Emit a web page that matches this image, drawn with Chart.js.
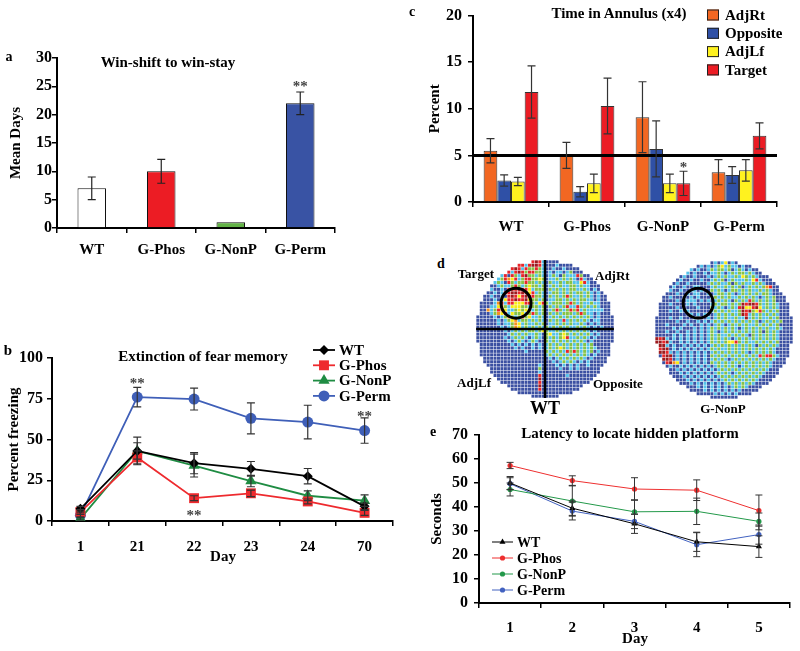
<!DOCTYPE html>
<html>
<head>
<meta charset="utf-8">
<script src="https://cdn.jsdelivr.net/npm/chart.js@4.4.1/dist/chart.umd.min.js"></script>
<style>
  body { margin: 0; background: #fff; width: 800px; height: 651px; position: relative; overflow: hidden;
         font-family: "Liberation Serif", "Times New Roman", serif; font-weight: bold; color: #000; }
  canvas { position: absolute; }
  .t { position: absolute; transform: translate(-50%, -50%); white-space: nowrap; line-height: 1; }
  .t.l { transform: translate(0, -50%); }
  .t.r { transform: translate(-100%, -50%); }
</style>
</head>
<body>
<script>
// ---- data ----
const groupsA = ["WT", "G-Phos", "G-NonP", "G-Perm"];
const meanDays = [7, 10, 1, 22];
const meanDaysErr = [2, 2.1, 0, 2];

const freezeDays = ["1", "21", "22", "23", "24", "70"];
const wtFreeze = [7.5, 43, 35.5, 32, 27.5, 9];
const wtFreezeErr = [1.5, 5, 6.5, 4.5, 4.7, 2];
const phosFreeze = [5.5, 39, 14, 17, 12, 5];
const phosFreezeErr = [1.5, 4, 1.5, 2, 1.5, 1.5];
const nonpFreeze = [1.5, 43, 34, 24.5, 15.5, 12.5];
const nonpFreezeErr = [1, 8.5, 7, 3.5, 3, 3.5];
const permFreeze = [3.5, 76, 74.8, 63, 60.7, 55.5];
const permFreezeErr = [1.5, 6, 6.7, 9.5, 10.3, 7.8];

const annulusGroups = ["WT", "G-Phos", "G-NonP", "G-Perm"];
const adjRt = [5.5, 5.0, 9.1, 3.2];
const adjRtErr = [1.3, 1.4, 3.8, 1.35];
const opposite = [2.3, 1.1, 5.7, 2.9];
const oppositeErr = [0.6, 0.55, 3.0, 0.9];
const adjLf = [2.2, 2.0, 2.0, 3.4];
const adjLfErr = [0.45, 1.0, 1.0, 1.15];
const target = [11.8, 10.3, 2.0, 7.1];
const targetErr = [2.8, 3.0, 1.3, 1.4];
const chanceLevel = 5;

const latencyDays = ["1", "2", "3", "4", "5"];
const wtLatency = [50, 39.5, 33, 25.5, 23.5];
const wtLatencyErr = [2.7, 3, 4, 4, 4.5];
const phosLatency = [57.3, 51, 47.5, 47, 38.5];
const phosLatencyErr = [1.3, 2, 4.7, 4.3, 6.5];
const nonpLatency = [47.3, 42.5, 38, 38.2, 34];
const nonpLatencyErr = [2.7, 6.3, 5, 5.5, 3.5];
const permLatency = [49.7, 38.3, 34, 24.3, 28.5];
const permLatencyErr = [2.5, 3.7, 3, 5, 4];

// occupancy maps, one letter per cell: b blue, c cyan, g green, y yellow, o orange, r red, d dark red
const wtTrack = [
  "bbbbbbbbbbbbbbbbrdrcbbbbbbbbbbbbbbbbbbbb",
  "bbbbbbbbbbbbrrcrddrcbbbcbbbbbbbbbbbbbbbb",
  "bbbbbbbbbbrdrcrggrgcbbcbbcbbbbbbbbbbbbbb",
  "bbbbbbbbbrcrdrgrrggcbcbccbcgbbbbbbbbbbbb",
  "bbbbbbbcrbrgcrdggcgcbcgcbgcccrgbbbbbbbbb",
  "bbbbbbcgroyrcgrrggygbccgcgcgcbrcbbbbbbbb",
  "bbbbbcgcbrgcggrggcgcbgccgcggccyrcbbbbbbb",
  "bbbbbbcgccgrgcgyggcgbcgcgccggcgccbbbbbbb",
  "bbbbcbbcbrrrdrrycgggbgcgcgcggccgcbcbbbbb",
  "bbbbbcbcrrddrdryrcgcbcggcgcgcggcgcbcbbbb",
  "bbbbcbbcbrdryrdrrggcbgcgcgrgccgcgcbcbbbb",
  "bbbbbcbcyrrdrrdyggcgbccggcgcgcggccbcbbbb",
  "bbbbbcorcrryyyrrgcyrgcgggcgrgcgccgccbbbb",
  "bbbbccyogcyyyggcggcgbgcgcgrccrgcgcgcbbbb",
  "bbbocgroyccgygyocgcgbcgrgcgrgrcgcccccbbb",
  "bbbbcgoyrcyggycgrgcgbgcgcgggcgrgccbcbbbb",
  "bbbbbcbcgogcgrgyccgcbcgcgcgcgcgcgcbcbbbb",
  "bbbbbbcbcgyocggcgcgcbgcgcrcgcgcgcbccbbbb",
  "bbbbbbcbccgoycgccgcgbccgcgcgccgcbcbcbbbb",
  "bbbbbbbcbcgoycgcgcgcgcgcgcgccgcgcbcbcbbb",
  "bbbbbbbbcbcgcgcggcgygccgcgcgcgcgcbcbbbbb",
  "bbbbbbbbbcgcgcgccgcbgyccgygcgcgcgcbcbbbb",
  "bbbbbbbbcbcgcgcbcgcbgcgcgyrccgcgcbcbbbbb",
  "bbbbbbbbbcbcgcbcgcbbgcgcgcgcgcgcbcbbbbbb",
  "bbbbbbbbbbcbcbcbcbcbcgcgcgcgcgcgcgbbbbbb",
  "bbbbbbbbbbbcbcbbcbcbcgcgygcgcgcgcgcbbbbb",
  "bbbbbbbbbbbbbbcbbbbbgcgcgcrgrgcgcgbcbbbb",
  "bbbbbbbbbbbbbbbbbbbbcgcgcgcgcgcgcbcbbbbb",
  "bbbbbbbbbbbbbbbbbbbbbcbcgcgcgcgcbcbbbbbb",
  "bbbbbbbbbbbbbbbbbbbbbbcbcgcgcbcbcbbbbbbb",
  "bbbbbbbbbbbbbbbbbbcbbbbcbcbcbcbbcbbbbbbb",
  "bbbbbbbbbbbbbbbbbbgbbbbbcbbcbcbbbbbbbbbb",
  "bbbbbbbbbbbbbbbbbbcbbbbbbbbbbbbbbbbbbbbb",
  "bbbbbbbbbbbbbbbbbbrbbbbbbbcbbbbbbbbbbbbb",
  "bbbbbbbbbbbbbbbbbbdbbbbbbbbbbbbbbbbbbbbb",
  "bbbbbbbbbbbbbbbbbbrbbbbbbbbbbbbbbbbbbbbb",
  "bbbbbbbbbbbbbbbbbbdbbbbbbbbbbbbbbbbbbbbb",
  "bbbbbbbbbbbbbbbbbbrbbbbbbbbbbbbbbbbbbbbb",
  "bbbbbbbbbbbbbbbbbbbbbbbbbbbbbbbbbbbbbbbb",
  "bbbbbbbbbbbbbbbbbbbbbbbbbbbbbbbbbbbbbbbb",
];
const nonpTrack = [
  "bbbbbbbbbbbbbbbbbcbcybcbbbbbbbbbbbbbbbbb",
  "bbbbbbbbbbbbbcbcbcgycgccbcbbbbbbbbbbbbbb",
  "bbbbbbbbbbcbcbbcgcggcgbcgcbcbbbbbbbbbbbb",
  "bbbbbbbbbcbcbbcbccgcbcgcggcgcbbbbbbbbbbb",
  "bbbbbbbbcbbcbbbcbcgcgccgcygcgcbbbbbbbbbb",
  "bbbbbbbcbbcbbcbbcgcgbcgcccgcyrcbbbbbbbbb",
  "bbbbbbcbbcbbbbbcgcgccgbgcgccgcgcbbbbbbbb",
  "bbbbbcbbcbbccbbbcgccgcgcgbcgcgcgorbbbbbb",
  "bbbbcbbcbbccbcbbgcgcbcggcgcgccgcgcbbbbbb",
  "bbbbbbcbbcbccbbcbcggcgcbcgcgcgcggcbbbbbb",
  "bbbbcbbbcbcbcbbbcgcgcgccgcgcgcbcgcgbbbbb",
  "bbbbbbcbbcccbcbcbcgcgcbgcgcrgcgcgcgbbbbb",
  "bbbbcbbbbcbcbbbbcgcggcgcgdrddrgcgcgcbbbb",
  "bbbbbbcbbbbbcbbbgcgcbcgcrdyyrdycgcgcbbbb",
  "bbbbcbbcbcbbbbbbcgcgcgccgdrdgyrgcgcgbbbb",
  "bbbbbbbbbbcbcbcbbcgcgcgcgdrcgcgcgcgcbbbb",
  "bbbbcbbcbbbcbbbcbcgcgccgccdcgcgccgcgbbbb",
  "bbbbbbcbbcbbcbcbcgcgcgcgcgcgcgbcgcgcgbbb",
  "bbbcbbbbcbcbbcbcbcgcbcgcgcgccgcgcgcgbbbb",
  "bbbbbcbcbbbcbcbcgcgcgcgcbcgcgcgcgccgcbbb",
  "bbbcbbcbbcbcbcbcgcbcgcgcgcgcgcgbgcgcbbbb",
  "bbbbbcbcbcbcbcbcgcgccgcgcgcbgcgcgcgcbbbb",
  "drdcbcbcbcbcbcbcgcgcgcbcgcgcgcgcgcgcbbbb",
  "ddrdcbbcbcbcbcbcgcgcgyyrgcgccgcgcgcgbbbb",
  "rddcbcbbcbcbcbcbcgcgcgcgcgcgcbgcgcgcbbbb",
  "drddbcbcbcbcbcbcgcgccgcgcgcgcgcgcgcbbbbb",
  "bddrcbcbcbcbcbcbcgcgcgcgcgcbcgcgcgcbbbbb",
  "bbrddbcbcbcbcbcbgcgcgcgcgcgcgcrgrrgcbbbb",
  "bbddrbcbcbcbcbcbcgcgcbcgcgcgcgcgcgcbbbbb",
  "bbbrdoybcbcbcbcbgcgcgcgcgcgcgcgcgcbbbbbb",
  "bbbbcbbcbcbcbcbcbcgcgcgcbcgcgcgcgcbbbbbb",
  "bbbbbbcbcbcbcbcbcbcgcgcgcgcgcgcgcbbbbbbb",
  "bbbbbbbcbcbcbcbcbcgcgcbcgcgcgcgcbbbbbbbb",
  "bbbbbbbbcbcbcbcbcbcgcgcgcgcgcgcbbbbbbbbb",
  "bbbbbbbbbcbcbcbcbcbcgcgcgcgcgcbbbbbbbbbb",
  "bbbbbbbbbbcbcbcbcbcbcgcgcgcgcbbbbbbbbbbb",
  "bbbbbbbbbbbbcbcbcbcbcbcgcgcbbbbbbbbbbbbb",
  "bbbbbbbbbbbbbbcbcbcbcbcbcbbbbbbbbbbbbbbb",
  "bbbbbbbbbbbbbbbbbcbcbcbcbbbbbbbbbbbbbbbb",
  "bbbbbbbbbbbbbbbbbbbbbbbbbbbbbbbbbbbbbbbb",
];

// ---- setup ----
const SERIF = '"Liberation Serif", "Times New Roman", serif';
Chart.defaults.font.family = SERIF;
Chart.defaults.font.weight = "bold";
Chart.defaults.color = "#000";
Chart.defaults.plugins.legend.display = false;
Chart.defaults.plugins.tooltip.enabled = false;

const heatColors = { b: "#3b50a2", c: "#55c2ea", g: "#86c347", y: "#f6eb16", o: "#f5921e", r: "#e8262a", d: "#9b1b1f" };

function text(str, x, y, size, align) {
  const d = document.createElement("div");
  d.className = "t" + (align ? " " + align : "");
  d.textContent = str;
  d.style.left = x + "px";
  d.style.top = y + "px";
  d.style.fontSize = size + "px";
  document.body.appendChild(d);
}

function mk(left, top, w, h, config) {
  const c = document.createElement("canvas");
  c.width = w; c.height = h;
  c.style.left = left + "px"; c.style.top = top + "px";
  c.style.width = w + "px"; c.style.height = h + "px";
  document.body.appendChild(c);
  config.options = Object.assign({ responsive: false, animation: false, events: [] }, config.options);
  return new Chart(c, config);
}

function yAxis(min, max, step, title, titlePad, width, tickPad) {
  return {
    min, max,
    ticks: { stepSize: step, font: { size: 16 }, padding: tickPad },
    grid: { drawOnChartArea: false, tickLength: 5, color: "#000", lineWidth: 1.5 },
    border: { color: "#000", width: 2 },
    title: { display: true, text: title, font: { size: 15 }, padding: { top: titlePad, bottom: 0 } },
    afterFit: (s) => { s.width = width; },
  };
}

function xAxis(height, tickPad) {
  return {
    offset: true,
    ticks: { font: { size: 15 }, padding: tickPad, maxRotation: 0, autoSkip: false },
    grid: { offset: true, drawOnChartArea: false, tickLength: 5, color: "#000", lineWidth: 1.5 },
    border: { color: "#000", width: 2 },
    afterFit: (s) => { s.height = height; },
  };
}

function drawMarker(ctx, style, x, y, r, color) {
  ctx.fillStyle = color;
  ctx.beginPath();
  if (style === "rect") {
    const s = r * Math.SQRT1_2;
    ctx.rect(x - s, y - s, 2 * s, 2 * s);
  } else if (style === "rectRot") {
    ctx.moveTo(x, y - r); ctx.lineTo(x + r, y); ctx.lineTo(x, y + r); ctx.lineTo(x - r, y); ctx.closePath();
  } else if (style === "triangle") {
    ctx.moveTo(x, y - r);
    ctx.lineTo(x + r * 0.866, y + r * 0.5);
    ctx.lineTo(x - r * 0.866, y + r * 0.5);
    ctx.closePath();
  } else {
    ctx.arc(x, y, r, 0, Math.PI * 2);
  }
  ctx.fill();
}

// ---- plugins ----
const errorBars = {
  id: "errorBars",
  afterDatasetsDraw(chart, args, o) {
    const ctx = chart.ctx, ys = chart.scales.y;
    ctx.save();
    ctx.strokeStyle = o.color || "#333";
    ctx.lineWidth = o.width || 1.2;
    chart.data.datasets.forEach((ds, di) => {
      if (!ds.errors) return;
      chart.getDatasetMeta(di).data.forEach((el, i) => {
        const e = ds.errors[i];
        if (!e) return;
        const top = ys.getPixelForValue(ds.data[i] + e);
        const bot = ys.getPixelForValue(ds.data[i] - e);
        const cap = o.cap || 4;
        ctx.beginPath();
        ctx.moveTo(el.x, top); ctx.lineTo(el.x, bot);
        ctx.moveTo(el.x - cap, top); ctx.lineTo(el.x + cap, top);
        ctx.moveTo(el.x - cap, bot); ctx.lineTo(el.x + cap, bot);
        ctx.stroke();
      });
    });
    ctx.restore();
  },
};

const stars = {
  id: "stars",
  afterDraw(chart, args, o) {
    const ctx = chart.ctx;
    ctx.save();
    ctx.fillStyle = "#444";
    ctx.font = "bold 15px " + SERIF;
    ctx.textAlign = "center";
    ctx.textBaseline = "middle";
    (o.items || []).forEach((s) => {
      const el = chart.getDatasetMeta(s.ds).data[s.i];
      ctx.fillText(s.text, el.x, chart.scales.y.getPixelForValue(s.v) + 4);
    });
    ctx.restore();
  },
};

const refLine = {
  id: "refLine",
  afterDatasetsDraw(chart, args, o) {
    if (o.value == null) return;
    const ctx = chart.ctx, a = chart.chartArea;
    const y = chart.scales.y.getPixelForValue(o.value);
    ctx.save();
    ctx.strokeStyle = "#000";
    ctx.lineWidth = 3;
    ctx.beginPath(); ctx.moveTo(a.left, y); ctx.lineTo(a.right, y); ctx.stroke();
    ctx.restore();
  },
};

const lineLegend = {
  id: "lineLegend",
  afterDraw(chart, args, o) {
    if (!o.x) return;
    const ctx = chart.ctx;
    ctx.save();
    ctx.font = `bold ${o.size}px ${SERIF}`;
    ctx.textBaseline = "middle";
    chart.data.datasets.forEach((ds, i) => {
      const y = o.y + i * o.gap;
      ctx.strokeStyle = ds.borderColor;
      ctx.lineWidth = ds.borderWidth;
      ctx.beginPath(); ctx.moveTo(o.x, y); ctx.lineTo(o.x + o.len, y); ctx.stroke();
      drawMarker(ctx, ds.pointStyle, o.x + o.len / 2, y, ds.pointRadius, ds.borderColor);
      ctx.fillStyle = "#000";
      ctx.fillText(ds.label, o.x + o.len + 4, y + 1);
    });
    ctx.restore();
  },
};

const boxLegend = {
  id: "boxLegend",
  afterDraw(chart, args, o) {
    if (!o.x) return;
    const ctx = chart.ctx;
    ctx.save();
    ctx.font = `bold 15px ${SERIF}`;
    ctx.textBaseline = "middle";
    chart.data.datasets.forEach((ds, i) => {
      const y = o.y + i * o.gap;
      ctx.fillStyle = ds.backgroundColor;
      ctx.fillRect(o.x, y - 5.5, 12, 11);
      ctx.strokeStyle = "#222"; ctx.lineWidth = 1;
      ctx.strokeRect(o.x + 0.5, y - 5, 11, 10);
      ctx.fillStyle = "#000";
      ctx.fillText(ds.label, o.x + 18, y + 1);
    });
    ctx.restore();
  },
};

const trackOverlay = {
  id: "trackOverlay",
  afterDraw(chart, args, o) {
    const ctx = chart.ctx, a = chart.chartArea, xs = chart.scales.x, ys = chart.scales.y;
    ctx.save();
    ctx.strokeStyle = "#000";
    if (o.cross) {
      ctx.lineWidth = 2.5;
      const cx = xs.getPixelForValue(19.5), cy = ys.getPixelForValue(19.5);
      ctx.beginPath();
      ctx.moveTo(cx, a.top); ctx.lineTo(cx, a.bottom);
      ctx.moveTo(a.left, cy); ctx.lineTo(a.right, cy);
      ctx.stroke();
    }
    if (o.ring) {
      ctx.lineWidth = 3;
      const px = xs.getPixelForValue(o.ring[0]), py = ys.getPixelForValue(o.ring[1]);
      const rad = Math.abs(xs.getPixelForValue(o.ring[2]) - xs.getPixelForValue(0));
      ctx.beginPath(); ctx.arc(px, py, rad, 0, Math.PI * 2); ctx.stroke();
    }
    ctx.restore();
  },
};

// ---- a: bars ----
mk(0, 40, 345, 225, {
  type: "bar",
  data: {
    labels: groupsA,
    datasets: [{
      data: meanDays, errors: meanDaysErr,
      backgroundColor: ["#ffffff", "#ec1c24", "#62b246", "#3953a4"],
      borderColor: "#111", borderWidth: 1,
      categoryPercentage: 1, barPercentage: 0.41,
    }],
  },
  options: {
    layout: { padding: { top: 18, right: 10 } },
    scales: { x: xAxis(37, 8), y: yAxis(0, 30, 5, "Mean Days", 7, 57, 0) },
    plugins: {
      errorBars: { cap: 4, color: "#222" },
      stars: { items: [{ ds: 0, i: 3, v: 25.6, text: "**" }] },
    },
  },
  plugins: [errorBars, stars],
});

// ---- b: freezing lines ----
function lineSet(label, data, errors, color, style, radius, width) {
  return {
    label, data, errors,
    borderColor: color, backgroundColor: color,
    pointBackgroundColor: color, pointBorderColor: color, pointBorderWidth: 0,
    pointStyle: style, pointRadius: radius, borderWidth: width, tension: 0,
  };
}
mk(0, 335, 400, 240, {
  type: "line",
  data: {
    labels: freezeDays,
    datasets: [
      lineSet("WT", wtFreeze, wtFreezeErr, "#000000", "rectRot", 5, 1.8),
      lineSet("G-Phos", phosFreeze, phosFreezeErr, "#ee2a2e", "rect", 7, 1.8),
      lineSet("G-NonP", nonpFreeze, nonpFreezeErr, "#1f8c43", "triangle", 6.5, 1.8),
      lineSet("G-Perm", permFreeze, permFreezeErr, "#3f5fb8", "circle", 5.5, 1.8),
    ],
  },
  options: {
    layout: { padding: { top: 23, right: 5 } },
    scales: { x: xAxis(54, 12), y: yAxis(0, 100, 25, "Percent freezing", 5, 52, 4) },
    plugins: {
      errorBars: { cap: 4, color: "#333" },
      stars: { items: [
        { ds: 3, i: 1, v: 86.7, text: "**" },
        { ds: 1, i: 2, v: 5.7, text: "**" },
        { ds: 3, i: 5, v: 66, text: "**" },
      ] },
      lineLegend: { x: 313, y: 15, gap: 15.3, len: 22, size: 15 },
    },
  },
  plugins: [errorBars, stars, lineLegend],
});

// ---- c: annulus bars ----
function barSet(label, data, errors, color) {
  return { label, data, errors, backgroundColor: color, borderColor: "#333", borderWidth: 1,
           categoryPercentage: 0.72, barPercentage: 1 };
}
mk(400, 0, 400, 240, {
  type: "bar",
  data: {
    labels: annulusGroups,
    datasets: [
      barSet("AdjRt", adjRt, adjRtErr, "#f26722"),
      barSet("Opposite", opposite, oppositeErr, "#2f50a6"),
      barSet("AdjLf", adjLf, adjLfErr, "#fff21f"),
      barSet("Target", target, targetErr, "#ec1c24"),
    ],
  },
  options: {
    layout: { padding: { top: 14, right: 23 } },
    scales: { x: xAxis(38, 11), y: yAxis(0, 20, 5, "Percent", 26, 73, 6) },
    plugins: {
      refLine: { value: chanceLevel },
      errorBars: { cap: 4, color: "#333" },
      stars: { items: [{ ds: 3, i: 2, v: 4.1, text: "*" }] },
      boxLegend: { x: 307, y: 15, gap: 18.3 },
    },
  },
  plugins: [refLine, errorBars, stars, boxLegend],
});

// ---- d: occupancy maps ----
function trackChart(left, top, rows, overlay) {
  const pts = [], cols = [];
  rows.forEach((row, i) => {
    for (let j = 0; j < 40; j++) {
      const dx = j + 0.5 - 20, dy = i + 0.5 - 20;
      if (dx * dx + dy * dy > 400) continue;
      pts.push({ x: j, y: i });
      cols.push(heatColors[row[j]] || heatColors.b);
    }
  });
  mk(left, top, 142, 142, {
    type: "scatter",
    data: { datasets: [{ data: pts, pointBackgroundColor: cols, pointStyle: "rect",
                         pointRadius: 2.1, pointBorderWidth: 0, pointHoverRadius: 0 }] },
    options: {
      layout: { padding: 2 },
      scales: {
        x: { type: "linear", min: -0.5, max: 39.5, display: false },
        y: { type: "linear", min: -0.5, max: 39.5, reverse: true, display: false },
      },
      plugins: { trackOverlay: overlay },
    },
    plugins: [trackOverlay],
  });
}
trackChart(474, 258, wtTrack, { cross: true, ring: [11.1, 12.0, 4.35] });
trackChart(653, 259, nonpTrack, { cross: false, ring: [12.0, 11.7, 4.35] });

// ---- e: latency lines ----
mk(400, 415, 400, 236, {
  type: "line",
  data: {
    labels: latencyDays,
    datasets: [
      lineSet("WT", wtLatency, wtLatencyErr, "#000000", "triangle", 3.5, 1),
      lineSet("G-Phos", phosLatency, phosLatencyErr, "#ee2f2f", "circle", 2.6, 1),
      lineSet("G-NonP", nonpLatency, nonpLatencyErr, "#23994a", "circle", 2.6, 1),
      lineSet("G-Perm", permLatency, permLatencyErr, "#4262c0", "circle", 2.6, 1),
    ],
  },
  options: {
    layout: { padding: { top: 20, right: 10 } },
    scales: { x: xAxis(48, 11), y: yAxis(0, 70, 10, "Seconds", 28, 79, 6) },
    plugins: {
      errorBars: { cap: 3.5, color: "#333", width: 1 },
      lineLegend: { x: 92, y: 127, gap: 16, len: 21, size: 14 },
    },
  },
  plugins: [errorBars, lineLegend],
});

// ---- panel letters, titles, map labels ----
text("a", 9, 57, 14);
text("Win-shift to win-stay", 168, 62, 15);
text("b", 8, 350, 15);
text("Extinction of fear memory", 203, 356, 15);
text("Day", 223, 556, 15);
text("c", 412, 12, 14);
text("Time in Annulus (x4)", 619, 13, 15);
text("d", 441, 264, 14);
text("Target", 494, 273, 13, "r");
text("AdjRt", 595, 275, 13, "l");
text("AdjLf", 474, 382, 13);
text("Opposite", 593, 383, 13, "l");
text("WT", 545, 408, 18);
text("G-NonP", 723, 408, 13);
text("e", 433, 432, 14);
text("Latency to locate hidden platform", 630, 433, 15);
text("Day", 635, 638, 15);
</script>
</body>
</html>
